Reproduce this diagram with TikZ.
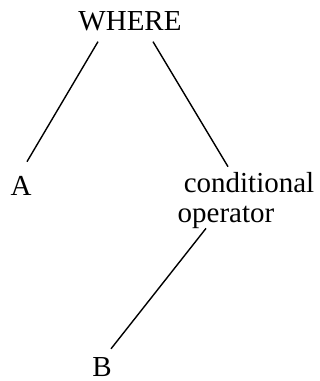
\documentclass[tikz,border=0pt]{standalone}
\usepackage{fontspec}
\setmainfont{Liberation Serif}
\begin{document}
\begin{tikzpicture}[x=1pt,y=-1pt,
  lbl/.style={anchor=base,inner sep=0pt,font=\fontsize{29}{32}\selectfont},
  edge/.style={line width=1.4pt}]
\useasboundingbox (0,0) rectangle (320,381);
\node[lbl] (where) at (130,30) {WHERE};
\node[lbl] (a) at (21,195) {A};
\node[lbl] (cond) at (249,192) {conditional};
\node[lbl] (op) at (226,222) {operator};
\node[lbl] (b) at (102,376) {B};
\draw[edge] ([xshift=-32pt,yshift=-11pt]where.south) -- ([xshift=6pt,yshift=14pt]a.north);
\draw[edge] ([xshift=23pt,yshift=-11pt]where.south) -- ([xshift=-21pt,yshift=5pt]cond.north);
\draw[edge] ([xshift=-20pt,yshift=0pt]op.south) -- ([xshift=9pt,yshift=8pt]b.north);
\end{tikzpicture}
\end{document}
